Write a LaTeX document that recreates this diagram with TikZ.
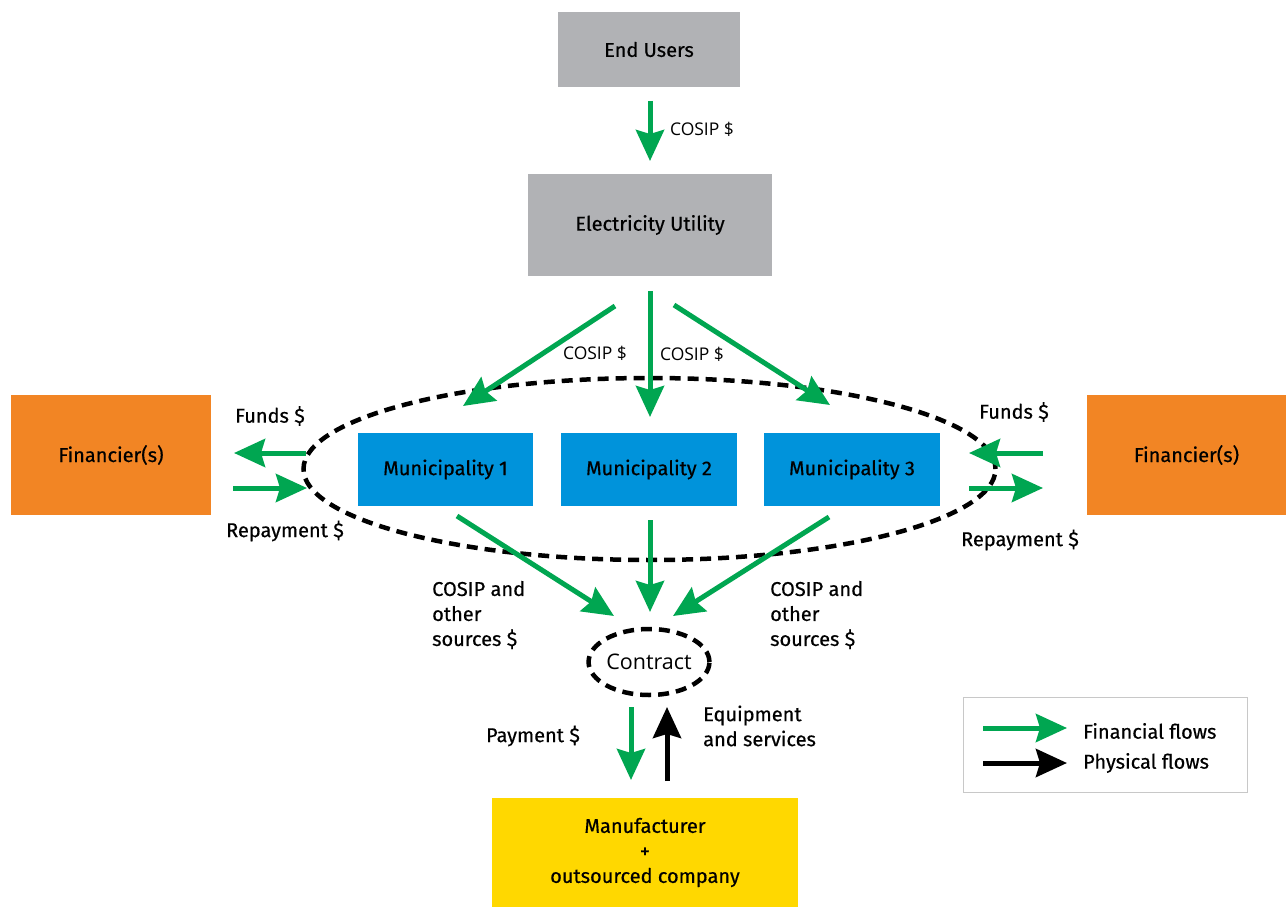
\documentclass[tikz,border=0pt]{standalone}
\usepackage{fontspec}
\setmainfont{Fira Sans}[FakeBold=0.5]
\newfontfamily\osans{Open Sans}
\usetikzlibrary{arrows.meta,shapes.geometric}
\definecolor{fgreen}{HTML}{00A651}
\definecolor{boxgray}{HTML}{B1B2B5}
\definecolor{muniblue}{HTML}{0093DB}
\definecolor{finorange}{HTML}{F28524}
\definecolor{manyellow}{HTML}{FFD800}
\definecolor{legborder}{HTML}{C8C8C8}
\tikzset{
  box/.style={rectangle, inner sep=0pt, align=center, font=\fontsize{20}{25}\selectfont},
  lbl/.style={inner sep=0pt, align=left, font=\fontsize{20}{25}\selectfont},
  clbl/.style={inner sep=0pt, font=\osans\fontsize{17.5}{20}\selectfont},
  fin/.style={line width=5pt, fgreen, -{Stealth[length=31pt,width=28pt,inset=4pt]}},
  phy/.style={line width=5pt, black, -{Stealth[length=31pt,width=28pt,inset=4pt]}},
  ring/.style={ellipse, draw=black, line width=4.5pt, dash pattern=on 11pt off 7pt, inner sep=0pt}
}
\begin{document}
\begin{tikzpicture}[x=1pt,y=-1pt]
\useasboundingbox (0,0) rectangle (1286,907);
% boxes
\node[box, fill=boxgray, minimum width=182pt, minimum height=75pt] (eu) at (649,49.5) {End Users};
\node[box, fill=boxgray, minimum width=244pt, minimum height=102pt] (ut) at (650,225) {Electricity Utility};
\node[box, fill=muniblue, minimum width=175pt, minimum height=73pt] (m1) at (445.5,469.5) {Municipality 1};
\node[box, fill=muniblue, minimum width=176pt, minimum height=73pt] (m2) at (649,469.5) {Municipality 2};
\node[box, fill=muniblue, minimum width=176pt, minimum height=73pt] (m3) at (852,469.5) {Municipality 3};
\node[box, fill=finorange, minimum width=200pt, minimum height=120pt] (finL) at (111,455) {Financier(s)};
\node[box, fill=finorange, minimum width=199pt, minimum height=120pt] (finR) at (1186.5,455) {Financier(s)};
\node[box, fill=manyellow, minimum width=306pt, minimum height=109pt] (man) at (645,852.5) {Manufacturer\\+\\outsourced company};
% dashed ellipses
\node[ring, minimum width=692pt, minimum height=182pt] (grp) at (649.5,469) {};
\node[ring, minimum width=116pt, minimum height=66pt, font=\osans\fontsize{21.5}{25}\selectfont] (con) at (649,662) {Contract};
% coordinates
\coordinate (a0s) at (650,101); \coordinate (a0e) at (650,161);
\coordinate (a1s) at (615,306); \coordinate (a1e) at (463,406);
\coordinate (a2s) at (650,291); \coordinate (a2e) at (650,417);
\coordinate (a3s) at (674,305); \coordinate (a3e) at (830,405);
\coordinate (b1s) at (457,516); \coordinate (b1e) at (614,616);
\coordinate (b2s) at (650,520); \coordinate (b2e) at (650,612);
\coordinate (b3s) at (829,517); \coordinate (b3e) at (673,616);
\coordinate (lfs) at (306,453); \coordinate (lfe) at (234,453);
\coordinate (lrs) at (233,488); \coordinate (lre) at (307,488);
\coordinate (rfs) at (1043,453); \coordinate (rfe) at (969,453);
\coordinate (rrs) at (969,488); \coordinate (rre) at (1043,488);
\coordinate (ps) at (631,707); \coordinate (pe) at (631,780);
\coordinate (es) at (667,781); \coordinate (ee) at (667,707);
\coordinate (lgs) at (983,728); \coordinate (lge) at (1067,728);
\coordinate (lbs) at (983,763); \coordinate (lbe) at (1067,763);
% arrows
\draw[fin] (a0s) -- (a0e);
\draw[fin] (a1s) -- (a1e);
\draw[fin] (a2s) -- (a2e);
\draw[fin] (a3s) -- (a3e);
\draw[fin] (b1s) -- (b1e);
\draw[fin] (b2s) -- (b2e);
\draw[fin] (b3s) -- (b3e);
\draw[fin] (lfs) -- (lfe);
\draw[fin] (lrs) -- (lre);
\draw[fin] (rfs) -- (rfe);
\draw[fin] (rrs) -- (rre);
\draw[fin] (ps) -- (pe);
\draw[phy] (es) -- (ee);
% labels
\node[clbl] (l0) at (702,129) {COSIP \$};
\node[clbl] (l1) at (595,353) {COSIP \$};
\node[clbl] (l2) at (692,354) {COSIP \$};
\node[lbl] (lf1) at (270,416) {Funds \$};
\node[lbl] (lr1) at (285,531) {Repayment \$};
\node[lbl] (lf2) at (1014,412) {Funds \$};
\node[lbl] (lr2) at (1020,540) {Repayment \$};
\node[lbl, anchor=west] (cs1) at (432,615) {COSIP and\\other\\sources \$};
\node[lbl, anchor=west] (cs2) at (770,615) {COSIP and\\other\\sources \$};
\node[lbl] (pay) at (533,736) {Payment \$};
\node[lbl, anchor=west] (eq) at (703,726) {Equipment\\and services};
% legend
\node[draw=legborder, line width=1pt, minimum width=284pt, minimum height=95pt, inner sep=0pt] (leg) at (1105,744.5) {};
\draw[fin] (lgs) -- (lge);
\draw[phy] (lbs) -- (lbe);
\node[lbl, anchor=west] (lt1) at (1083,731) {Financial flows};
\node[lbl, anchor=west] (lt2) at (1083,763) {Physical flows};
\end{tikzpicture}
\end{document}
